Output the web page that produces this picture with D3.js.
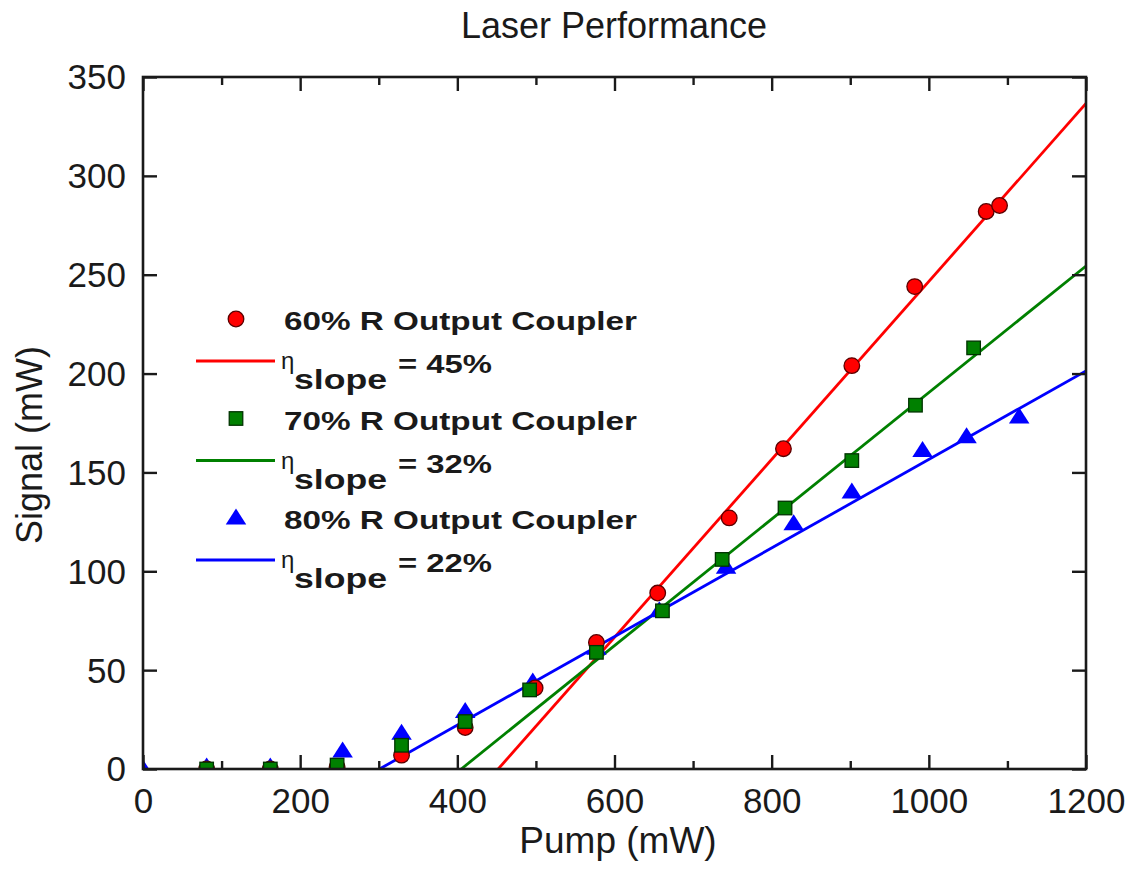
<!DOCTYPE html>
<html>
<head>
<meta charset="utf-8">
<script src="https://cdn.jsdelivr.net/npm/d3@7/dist/d3.min.js"></script>
<style>
  html, body { margin: 0; padding: 0; background: #fff; }
  svg { display: block; }
  text { font-family: "Liberation Sans", Arial, Helvetica, sans-serif; fill: #1a1a1a; }
</style>
</head>
<body>
<svg id="chart" width="1135" height="869"></svg>
<script>
// Pump power (mW) and measured signal (mW) for each output coupler
const pump60 = [81, 162, 247, 329, 410, 499, 577, 655, 746, 815, 902, 982, 1073, 1090];
const signal60 = [0, 0, 1, 7, 21, 41, 64, 89, 127, 162, 204, 244, 282, 285];

const pump70 = [81, 162, 247, 329, 410, 492, 577, 661, 737, 817, 902, 983, 1057];
const signal70 = [0, 0, 2, 12, 24, 40, 59, 80, 106, 132, 156, 184, 213];

const pump80 = [0, 81, 162, 254, 329, 410, 496, 577, 657, 742, 828, 902, 992, 1048, 1115];
const signal80 = [0, 1, 1, 9, 18, 29, 44, 61, 80, 102, 124, 140, 161, 168, 178];

// Linear fits: threshold pump (mW) and slope efficiency
const fitThreshold = [452, 405, 301];
const fitSlope = [0.45, 0.32, 0.224];

const seriesNames = ["60% R Output Coupler", "70% R Output Coupler", "80% R Output Coupler"];
const seriesColors = ["#ff0000", "#008000", "#0000ff"];
const seriesStroke = ["#5a0000", "#003300", "#0000ff"];
const seriesShapes = ["circle", "square", "triangle"];

const xTicks = [0, 200, 400, 600, 800, 1000, 1200];
const xMinorTicks = [100, 300, 500, 700, 900, 1100];
const yTicks = [0, 50, 100, 150, 200, 250, 300, 350];

const svg = d3.select("#chart");
const L = 143, R = 1086, T = 77, B = 769;

const x = d3.scaleLinear().domain([0, 1200]).range([L, R]);
const y = d3.scaleLinear().domain([0, 350]).range([B, T]);

// Title and axis titles
svg.append("text").attr("x", 614).attr("y", 38).attr("text-anchor", "middle")
  .style("font-size", "36px").text("Laser Performance");
svg.append("text").attr("x", 618).attr("y", 853).attr("text-anchor", "middle")
  .style("font-size", "37px").text("Pump (mW)");
svg.append("text").attr("transform", "translate(42,445) rotate(-90)").attr("text-anchor", "middle")
  .style("font-size", "36px").text("Signal (mW)");

// Clip region for plotted data
svg.append("defs").append("clipPath").attr("id", "plotClip")
  .append("rect").attr("x", L).attr("y", T).attr("width", R - L).attr("height", B - T);

const plot = svg.append("g").attr("clip-path", "url(#plotClip)");

// Fit lines
const lineGen = d3.line().x(d => x(d[0])).y(d => y(d[1]));
fitThreshold.forEach((x0, i) => {
  const pts = [[x0, 0], [1200, fitSlope[i] * (1200 - x0)]];
  plot.append("path").attr("d", lineGen(pts))
    .attr("fill", "none").attr("stroke", seriesColors[i]).attr("stroke-width", 2.8);
});

// Marker drawing
function drawMarker(g, shape, cx, cy, fill, stroke) {
  if (shape === "circle") {
    g.append("circle").attr("cx", cx).attr("cy", cy).attr("r", 7.8)
      .attr("fill", fill).attr("stroke", stroke).attr("stroke-width", 1.3);
  } else if (shape === "square") {
    const s = 13.5;
    g.append("rect").attr("x", cx - s / 2).attr("y", cy - s / 2).attr("width", s).attr("height", s)
      .attr("fill", fill).attr("stroke", stroke).attr("stroke-width", 1.3);
  } else {
    const w = 20.5, h = 16;
    const p = d3.path();
    p.moveTo(cx, cy - h * 0.6);
    p.lineTo(cx + w / 2, cy + h * 0.4);
    p.lineTo(cx - w / 2, cy + h * 0.4);
    p.closePath();
    g.append("path").attr("d", p.toString()).attr("fill", fill);
  }
}

const pumps = [pump60, pump70, pump80];
const signals = [signal60, signal70, signal80];
// blue first, then red, then green on top
[2, 0, 1].forEach(i => {
  const g = plot.append("g");
  pumps[i].forEach((p, k) => {
    drawMarker(g, seriesShapes[i], x(p), y(signals[i][k]), seriesColors[i], seriesStroke[i]);
  });
});

// Axes with inward ticks
const axisColor = "#1a1a1a";
function styleAxis(g) {
  g.select(".domain").remove();
  g.selectAll(".tick line").attr("stroke", axisColor).attr("stroke-width", 2.4);
  g.selectAll(".tick text").style("font-size", "35px").attr("fill", axisColor);
}

svg.append("g").attr("transform", `translate(0,${B})`)
  .call(d3.axisBottom(x).tickValues(xTicks).tickSize(-14).tickPadding(19).tickFormat(d3.format("d")))
  .call(styleAxis);
svg.append("g").attr("transform", `translate(0,${B})`)
  .call(d3.axisBottom(x).tickValues(xMinorTicks).tickSize(-8).tickFormat(""))
  .call(styleAxis);
svg.append("g").attr("transform", `translate(0,${T})`)
  .call(d3.axisTop(x).tickValues(xTicks).tickSize(-14).tickFormat(""))
  .call(styleAxis);
svg.append("g").attr("transform", `translate(0,${T})`)
  .call(d3.axisTop(x).tickValues(xMinorTicks).tickSize(-8).tickFormat(""))
  .call(styleAxis);
svg.append("g").attr("transform", `translate(${L},0)`)
  .call(d3.axisLeft(y).tickValues(yTicks).tickSize(-14).tickPadding(17).tickFormat(d3.format("d")))
  .call(styleAxis)
  .selectAll(".tick text").attr("dy", "0.34em");
svg.append("g").attr("transform", `translate(${R},0)`)
  .call(d3.axisRight(y).tickValues(yTicks).tickSize(-14).tickFormat(""))
  .call(styleAxis);

// Frame
svg.append("rect").attr("x", L).attr("y", T).attr("width", R - L).attr("height", B - T)
  .attr("fill", "none").attr("stroke", axisColor).attr("stroke-width", 2.6);

// Legend
const legend = svg.append("g");
const rowGap = 99.5;
seriesNames.forEach((name, i) => {
  const dy = i * rowGap;
  drawMarker(legend, seriesShapes[i], 236, 319 + dy, seriesColors[i], seriesStroke[i]);
  legend.append("text").attr("x", 284).attr("y", 330 + dy)
    .style("font-size", "26px").style("font-weight", "bold")
    .attr("textLength", 353).attr("lengthAdjust", "spacingAndGlyphs").text(name);
  legend.append("line").attr("x1", 196).attr("x2", 275).attr("y1", 361 + dy).attr("y2", 361 + dy)
    .attr("stroke", seriesColors[i]).attr("stroke-width", 2.8);
  legend.append("text").attr("x", 281).attr("y", 369 + dy)
    .style("font-size", "24px").text("η");
  legend.append("text").attr("x", 294).attr("y", 389 + dy)
    .style("font-size", "27px").style("font-weight", "bold")
    .attr("textLength", 93).attr("lengthAdjust", "spacingAndGlyphs").text("slope");
  legend.append("text").attr("x", 398).attr("y", 373 + dy)
    .style("font-size", "26px").style("font-weight", "bold")
    .attr("textLength", 94).attr("lengthAdjust", "spacingAndGlyphs")
    .text("= " + Math.round(fitSlope[i] * 100) + "%");
});
</script>
</body>
</html>
